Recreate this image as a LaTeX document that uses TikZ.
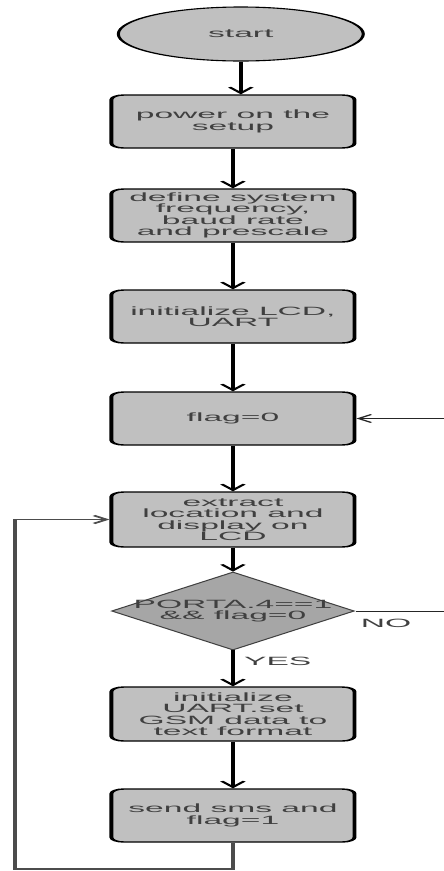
\documentclass[tikz,border=0pt]{standalone}
\usepackage{fontspec}
\setmainfont{Liberation Sans}
\usetikzlibrary{arrows.meta,shapes.geometric,positioning}

\definecolor{boxgray}{HTML}{C0C0C0}
\definecolor{diagray}{HTML}{A6A6A6}
\definecolor{txtgray}{HTML}{404040}

\begin{document}
\begin{tikzpicture}[x=1pt, y=-1pt,
    every node/.style={font=\fontsize{12}{11.5}\selectfont, text=txtgray, align=center},
    procbox/.style={draw, line width=1.4pt, rounded corners=4.5pt, fill=boxgray,
        minimum width=86.8pt, minimum height=53pt, inner sep=1pt},
    termnode/.style={ellipse, draw, line width=1.1pt, fill=boxgray,
        minimum width=87.5pt, minimum height=54pt, inner sep=0pt},
    decision/.style={diamond, draw=black!75, line width=0.8pt, fill=diagray,
        minimum width=86.8pt, minimum height=78pt, inner sep=0pt},
    flow/.style={line width=1.3pt, -{Straight Barb[length=6pt,width=8pt]}},
    wire/.style={line width=1pt, black!85, -{Straight Barb[length=4.5pt,width=8pt]}},
    loopline/.style={line width=1.4pt, black!70, -{Straight Barb[length=4.5pt,width=8pt]}}]
    % Page
    \useasboundingbox[fill=white] (0,0) rectangle (444,871);
    % the whole chart is stretched sideways
    \begin{scope}[transform canvas={xscale=2.8}]
    % Steps
    \node[termnode] (start) at (86,34) {start};
    \node[procbox] (power) at (83.2,121.5) {power on the\\setup};
    \node[procbox] (define) at (83.2,215.5) {define system\\frequency,\\baud rate\\and prescale};
    \node[procbox] (initlcd) at (83.2,316.5) {initialize LCD,\\UART};
    \node[procbox] (flag) at (83.2,418.5) {flag=0};
    \node[procbox, minimum height=55pt] (extract) at (83.2,519.5) {extract\\location and\\display on\\LCD};
    \node[decision, label={[align=center]center:PORTA.4==1\\\&\& flag=0}] (check) at (83.2,611) {};
    \node[procbox, minimum height=54pt] (inituart) at (83.2,714) {initialize\\UART.set\\GSM data to\\text format};
    \node[procbox] (send) at (83.2,815.5) {send sms and\\flag=1};
    % Turning points
    \coordinate (noturn) at (162,611);
    \coordinate (noback) at (162,418.5);
    \coordinate (loopbot) at (83.2,869);
    \coordinate (loopleft) at (5.4,869);
    \coordinate (looptop) at (5.4,519.5);
    % Main flow
    \draw[flow] (start) -- (start |- power.north);
    \draw[flow] (power) -- (define);
    \draw[flow] (define) -- (initlcd);
    \draw[flow] (initlcd) -- (flag);
    \draw[flow] (flag) -- (extract);
    \draw[flow] (extract) -- (check);
    \draw[flow] (check) -- node[right, pos=0.3] {YES} (inituart);
    \draw[flow] (inituart) -- (send);
    % NO branch back to flag=0
    \draw[wire] (check.east) -- node[below=4pt, pos=0.31] {NO} (noturn) -- (noback) -- (flag.east);
    % Loop back to extract
    \draw[loopline] (send) -- (loopbot) -- (loopleft) -- (looptop) -- (extract);
    \end{scope}
\end{tikzpicture}
\end{document}
